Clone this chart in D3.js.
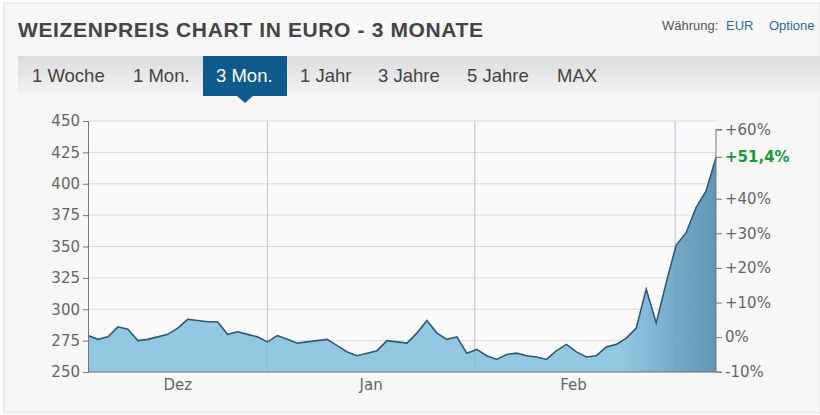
<!DOCTYPE html>
<html><head><meta charset="utf-8">
<script src="https://cdn.jsdelivr.net/npm/d3@7/dist/d3.min.js"></script>
<style>body{margin:0;background:#fff;}svg{display:block;font-family:"Liberation Sans",Arial,sans-serif;}</style>
</head><body><svg id="c" width="820" height="415"></svg>
<script>
const prices = [279,276,278,286,284,275,276,278,280,285,292,291,290,290,280,282,280,278,274,279,276,273,274,275,276,271,266,263,265,267,275,274,273,281,291,281,
276,278,265,268,263,260,264,265,263,262,260,267,272,266,262,263,270,272,277,285,316,289,321,351,361,381,394,421];
const leftTicks = [250,275,300,325,350,375,400,425,450];
const pctTicks = [-10,0,10,20,30,40,50,60];
const monthLabels = ["Dez","Jan","Feb"];
const monthLabelPos = [9,28.4,48.7];
const monthGridPos = [18,38.8,58.9];
const tabs = ["1 Woche","1 Mon.","3 Mon.","1 Jahr","3 Jahre","5 Jahre","MAX"];
const tabX = [32,133,216,300,378,467,557];
const selectedTab = "3 Mon.";
const lastPct = "+51,4%";
const base = 278;

const svg = d3.select("#c");
const defs = svg.append("defs");
const tg = defs.append("linearGradient").attr("id","tabg").attr("x1",0).attr("x2",0).attr("y1",0).attr("y2",1);
tg.append("stop").attr("offset","0").attr("stop-color","#dcdcdc");
tg.append("stop").attr("offset","1").attr("stop-color","#f4f4f4");
const ag = defs.append("linearGradient").attr("id","areag").attr("x1",0).attr("x2",1).attr("y1",0).attr("y2",0);
ag.append("stop").attr("offset","0").attr("stop-color","#8ec4e0");
ag.append("stop").attr("offset","0.85").attr("stop-color","#8ec4e0");
ag.append("stop").attr("offset","1").attr("stop-color","#5a8fb0");

svg.append("rect").attr("width",820).attr("height",415).attr("fill","#fff");
svg.append("rect").attr("x",4).attr("y",3).attr("width",816).attr("height",410).attr("fill","#f7f7f7").attr("stroke","#e2e2e2");
svg.append("text").attr("x",18).attr("y",37).attr("font-size",21).attr("font-weight","bold").attr("fill","#444").attr("textLength",465).text("WEIZENPREIS CHART IN EURO - 3 MONATE");
svg.append("text").attr("x",662).attr("y",30).attr("font-size",13).attr("fill","#555").text("Währung:");
svg.append("text").attr("x",726).attr("y",30).attr("font-size",13).attr("fill","#2a6c9a").text("EUR");
svg.append("text").attr("x",769).attr("y",30).attr("font-size",13).attr("fill","#2a6c9a").text("Optione");
svg.append("rect").attr("x",18).attr("y",56).attr("width",802).attr("height",40).attr("fill","url(#tabg)");
tabs.forEach((t,i)=>{
  if(t===selectedTab){
    svg.append("rect").attr("x",203).attr("y",56).attr("width",84).attr("height",40).attr("fill","#0e5a8c");
    svg.append("path").attr("d","M236,95 L245,103 L254,95Z").attr("fill","#0e5a8c");
  }
  svg.append("text").attr("x",tabX[i]).attr("y",82).attr("font-size",18.5).attr("fill",t===selectedTab?"#fff":"#444").text(t);
});

const x0=88,x1=716,yT=121,yB=372;
const x = d3.scaleLinear().domain([0,prices.length-1]).range([x0,x1]);
const y = d3.scaleLinear().domain([250,450]).range([yB,yT]);
const yp = d3.scaleLinear().domain([-10,60]).range([y(base*0.9),y(base*1.6)+2]);
const g = svg.append("g");
g.append("rect").attr("x",x0).attr("y",yT).attr("width",x1-x0).attr("height",yB-yT).attr("fill","#fafafa");
leftTicks.forEach(v=>g.append("line").attr("x1",x0).attr("x2",x1).attr("y1",y(v)).attr("y2",y(v)).attr("stroke","#dadada"));
monthGridPos.forEach(v=>g.append("line").attr("x1",x(v)).attr("x2",x(v)).attr("y1",yT).attr("y2",yB).attr("stroke","#d6d6d6"));
g.append("path").datum(prices).attr("fill","url(#areag)").attr("fill-opacity",0.95)
 .attr("d",d3.area().x((d,i)=>x(i)).y0(yB).y1(d=>y(d)));
monthGridPos.forEach(v=>g.append("line").attr("x1",x(v)).attr("x2",x(v)).attr("y1",yT).attr("y2",yB).attr("stroke","#6f9ab5").attr("stroke-opacity",0.25));
g.append("path").datum(prices).attr("fill","none").attr("stroke","#2c5a78").attr("stroke-width",1.6)
 .attr("d",d3.line().x((d,i)=>x(i)).y(d=>y(d)));

const la = svg.append("g").attr("transform",`translate(${x0},0)`).call(d3.axisLeft(y).tickValues(leftTicks).tickSize(5).tickPadding(3));
la.selectAll("text").attr("font-size",15).attr("fill","#666").attr("font-family","Verdana,DejaVu Sans,sans-serif");
la.selectAll("line,path").attr("stroke","#777");
const ra = svg.append("g").attr("transform",`translate(${x1},0)`).call(d3.axisRight(yp).tickValues(pctTicks.filter(v=>v!==50)).tickSize(6).tickPadding(3).tickFormat(v=>(v>0?"+":"")+v+"%"));
ra.selectAll("text").attr("font-size",15).attr("fill","#666").attr("font-family","Verdana,DejaVu Sans,sans-serif");
ra.selectAll("line,path").attr("stroke","#777");
ra.select(".domain").attr("d",`M6,${yp(60)}H0V${yB}H6`);
svg.append("line").attr("x1",x1).attr("x2",x1+6).attr("y1",y(prices[prices.length-1])).attr("y2",y(prices[prices.length-1])).attr("stroke","#777");
svg.append("text").attr("x",x1+9).attr("y",y(prices[prices.length-1])+5).attr("font-size",15).attr("font-weight","bold")
 .attr("font-family","Verdana,DejaVu Sans,sans-serif").attr("fill","#1a9a3a").text(lastPct);
svg.append("line").attr("x1",x0).attr("x2",x1).attr("y1",yB).attr("y2",yB).attr("stroke","#777");
monthLabels.forEach((m,i)=>svg.append("text").attr("x",x(monthLabelPos[i])).attr("y",390).attr("text-anchor","middle")
 .attr("font-size",15).attr("fill","#666").attr("font-family","Verdana,DejaVu Sans,sans-serif").text(m));
</script></body></html>
